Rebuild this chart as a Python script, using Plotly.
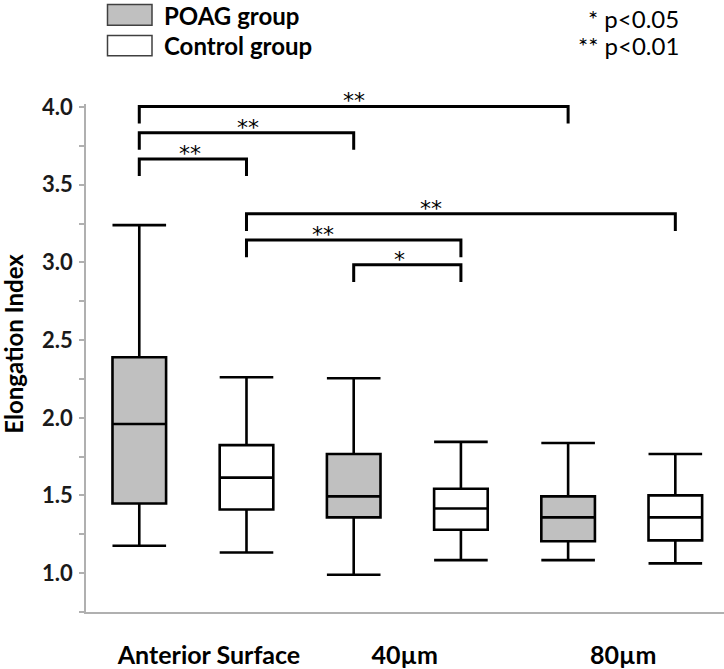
import plotly.graph_objects as go

# ---------------- data ----------------
categories = ["Anterior Surface", "40µm", "80µm"]
label_pos = [0.65, 2.475, 4.515]          # x positions of category labels

poag_pos = [0, 2, 4]
control_pos = [1, 3, 5]

poag_upper = [3.24, 2.255, 1.838]
poag_q3 = [2.39, 1.767, 1.494]
poag_median = [1.96, 1.494, 1.359]
poag_q1 = [1.448, 1.359, 1.205]
poag_lower = [1.176, 0.99, 1.084]

control_upper = [2.261, 1.845, 1.767]
control_q3 = [1.824, 1.543, 1.501]
control_median = [1.615, 1.416, 1.359]
control_q1 = [1.41, 1.279, 1.211]
control_lower = [1.133, 1.084, 1.063]

# significance brackets
comp_from = [0, 0, 0, 1, 1, 2]
comp_to = [1, 2, 4, 5, 3, 3]
comp_y = [3.666, 3.835, 4.004, 3.313, 3.144, 2.985]
comp_label = ["**", "**", "**", "**", "**", "*"]
comp_label_x = [0.474, 1.015, 2.0, 2.72, 1.71, 2.43]
tip_drop = 0.11

# ---------------- layout geometry ----------------
W, H = 724, 669
L, R, T, B = 86, 0, 104, 49
pw, ph = W - L - R, H - T - B


def px(x):
    return (x - L) / pw


def py(y):
    return (H - B - y) / ph


FONT = "Lato"
GRAY = "#c0c0c0"
AXIS = "#b0b0b0"

fig = go.Figure()

fig.add_trace(go.Box(
    x=poag_pos, q1=poag_q1, median=poag_median, q3=poag_q3,
    lowerfence=poag_lower, upperfence=poag_upper,
    name="POAG group", width=0.5, whiskerwidth=1,
    fillcolor=GRAY, line=dict(color="black", width=2.6),
    boxpoints=False, showlegend=False,
))
fig.add_trace(go.Box(
    x=control_pos, q1=control_q1, median=control_median, q3=control_q3,
    lowerfence=control_lower, upperfence=control_upper,
    name="Control group", width=0.5, whiskerwidth=1,
    fillcolor="white", line=dict(color="black", width=2.6),
    boxpoints=False, showlegend=False,
))

pos = sorted(poag_pos + control_pos)
shapes = []
annotations = []
for a, b, y, lab, lx in zip(comp_from, comp_to, comp_y, comp_label, comp_label_x):
    x0, x1 = pos[a], pos[b]
    shapes.append(dict(
        type="path", xref="x", yref="y",
        path=f"M {x0},{y - tip_drop} L {x0},{y} L {x1},{y} L {x1},{y - tip_drop}",
        line=dict(color="black", width=3),
    ))
    annotations.append(dict(
        x=lx, y=y, xref="x", yref="y", text=lab, showarrow=False,
        yanchor="bottom", yshift=-9,
        font=dict(family="DejaVu Sans", size=22, color="black"),
    ))

# custom legend
shapes.append(dict(type="rect", xref="paper", yref="paper",
                   x0=px(107.5), x1=px(152), y0=py(24), y1=py(3),
                   fillcolor=GRAY, line=dict(color="#404040", width=1.5)))
shapes.append(dict(type="rect", xref="paper", yref="paper",
                   x0=px(107.5), x1=px(152), y0=py(55), y1=py(34.5),
                   fillcolor="white", line=dict(color="#404040", width=1.5)))
annotations.append(dict(x=px(162), y=py(14), xref="paper", yref="paper",
                        text="POAG group", showarrow=False, xanchor="left", yanchor="middle",
                        font=dict(family=FONT, size=24, color="black", weight="bold")))
annotations.append(dict(x=px(162), y=py(45), xref="paper", yref="paper",
                        text="Control group", showarrow=False, xanchor="left", yanchor="middle",
                        font=dict(family=FONT, size=24, color="black", weight="bold")))
annotations.append(dict(x=px(681), y=py(17), xref="paper", yref="paper",
                        text="* p<0.05", showarrow=False, xanchor="right", yanchor="middle",
                        font=dict(family=FONT, size=24, color="black")))
annotations.append(dict(x=px(681), y=py(45), xref="paper", yref="paper",
                        text="** p<0.01", showarrow=False, xanchor="right", yanchor="middle",
                        font=dict(family=FONT, size=24, color="black")))
# y-axis title
annotations.append(dict(x=px(14), y=py(347.5), xref="paper", yref="paper",
                        text="Elongation Index", showarrow=False, textangle=-90,
                        xanchor="center", yanchor="middle",
                        font=dict(family=FONT, size=24, color="black", weight="bold")))

fig.update_layout(
    width=W, height=H,
    margin=dict(l=L, r=R, t=T, b=B, pad=0),
    paper_bgcolor="white", plot_bgcolor="white",
    boxmode="overlay",
    shapes=shapes, annotations=annotations,
    showlegend=False,
)
fig.update_xaxes(
    range=[-0.497, 5.454], showline=True, linecolor=AXIS, linewidth=1.5,
    ticks="", tickvals=label_pos, ticktext=categories,
    tickfont=dict(family=FONT, size=25, color="black", weight="bold"),
    ticklabelstandoff=20, showgrid=False, zeroline=False,
)
fig.update_yaxes(
    range=[0.75, 4.02], showline=True, linecolor=AXIS, linewidth=1.5,
    tick0=1.0, dtick=0.5, tickformat=".1f",
    ticks="outside", ticklen=5, tickcolor=AXIS, tickwidth=1.5,
    minor=dict(dtick=0.25, tick0=1.0, ticks="outside", ticklen=5, tickcolor=AXIS, tickwidth=1.5),
    tickfont=dict(family=FONT, size=22, color="#1a1a1a", weight="bold"),
    ticklabelstandoff=2, showgrid=False, zeroline=False,
)

fig.write_html(
    "out.html",
    config={"displayModeBar": False},
    post_script="document.body.style.margin='0';document.body.style.overflow='hidden';",
)
